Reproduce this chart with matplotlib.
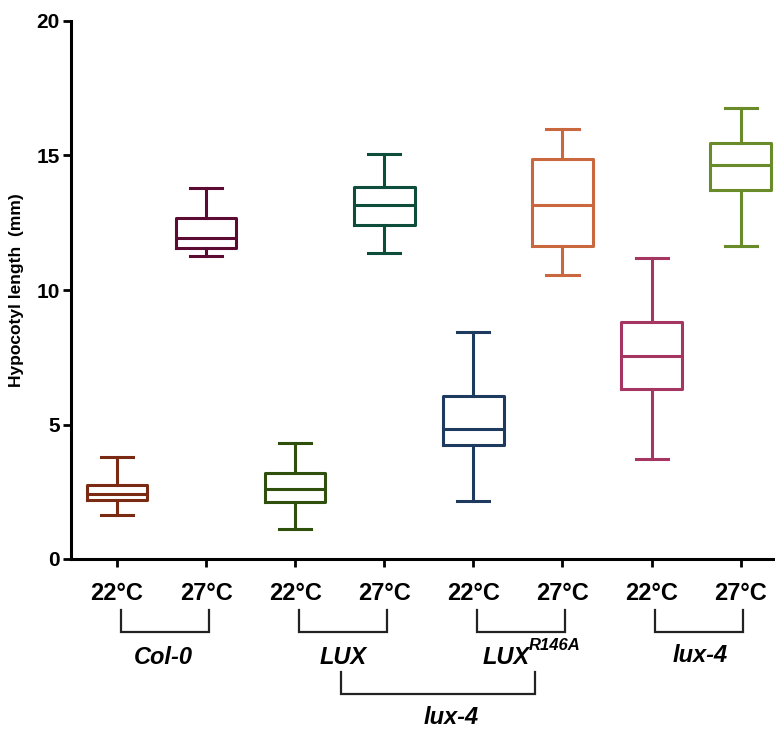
import matplotlib
matplotlib.use("Agg")
import matplotlib.pyplot as plt
import matplotlib.transforms as mtransforms

plt.rcParams['font.family'] = ['Liberation Sans', 'DejaVu Sans']

# ---- data ----
temps = ["22°C", "27°C", "22°C", "27°C", "22°C", "27°C", "22°C", "27°C"]
whislo = [1.65, 11.26, 1.12, 11.36, 2.16, 10.56, 3.71, 11.63]
q1 = [2.20, 11.55, 2.13, 12.42, 4.24, 11.65, 6.33, 13.72]
med = [2.42, 11.92, 2.60, 13.16, 4.82, 13.16, 7.56, 14.66]
q3 = [2.75, 12.69, 3.21, 13.84, 6.07, 14.86, 8.82, 15.48]
whishi = [3.80, 13.78, 4.30, 15.05, 8.45, 15.97, 11.20, 16.78]
colors = ['#7A2A12', '#5C0B32', '#2F4F0C', '#0E4D3B',
          '#1E3A5F', '#C9673F', '#A53561', '#6A8B2A']
yticks = [0, 5, 10, 15, 20]

W, H = 775, 742
fig = plt.figure(figsize=(W / 100, H / 100), dpi=100)
ax = fig.add_axes([71 / W, 1 - 559 / H, 1 - 71 / W, (559 - 21) / H])

positions = list(range(1, len(temps) + 1))
stats = [dict(whislo=a, q1=b, med=c, q3=d, whishi=e, fliers=[])
         for a, b, c, d, e in zip(whislo, q1, med, q3, whishi)]
lw = 2.2
for s, p, col in zip(stats, positions, colors):
    ax.bxp([s], positions=[p], widths=0.68, showfliers=False,
           boxprops=dict(color=col, linewidth=lw),
           medianprops=dict(color=col, linewidth=lw),
           whiskerprops=dict(color=col, linewidth=lw),
           capprops=dict(color=col, linewidth=lw),
           capwidths=0.36)

ax.set_xlim(0.484, 1 + (775 - 117) / 89.1)
ax.set_ylim(0, 20)
ax.set_yticks(yticks)
ax.set_yticklabels([str(t) for t in yticks], fontsize=15, fontweight='bold')
ax.set_xticks(positions)
ax.set_xticklabels([])
for sp in ['top', 'right']:
    ax.spines[sp].set_visible(False)
for sp in ['left', 'bottom']:
    ax.spines[sp].set_linewidth(2.2)
ax.tick_params(axis='both', width=2.0, length=6, direction='out', pad=2)
ax.set_ylabel("Hypocotyl length  (mm)", fontsize=12.5, fontweight='bold', labelpad=9)

# annotations below axis
tr = mtransforms.blended_transform_factory(ax.transData, fig.transFigure)
def fy(py):
    return 1 - py / H

for p, t in zip(positions, temps):
    ax.text(p, fy(593), t, transform=tr, ha='center', va='center',
            fontsize=17, fontweight='bold')

def bracket(x0, x1, ytop, ybot):
    ax.plot([x0, x0, x1, x1], [fy(ytop), fy(ybot), fy(ybot), fy(ytop)],
            transform=tr, color='#222222', lw=1.6, clip_on=False,
            solid_joinstyle='miter')

for i in range(0, 8, 2):
    bracket(positions[i] + 0.04, positions[i + 1] + 0.03, 610, 632)
bracket(3.51, 5.69, 672, 694)

ax.text(1.52, fy(657), "Col-0", transform=tr, ha='center', va='center',
        fontsize=17, fontweight='bold', style='italic')
ax.text(3.54, fy(657), "LUX", transform=tr, ha='center', va='center',
        fontsize=17, fontweight='bold', style='italic')
ax.text(5.37, fy(657), "LUX", transform=tr, ha='center', va='center',
        fontsize=17, fontweight='bold', style='italic')
ax.text(5.62, fy(646), "R146A", transform=tr, ha='left', va='center',
        fontsize=12, fontweight='bold', style='italic')
ax.text(7.54, fy(655), "lux-4", transform=tr, ha='center', va='center',
        fontsize=17, fontweight='bold', style='italic')
ax.text(4.75, fy(718), "lux-4", transform=tr, ha='center', va='center',
        fontsize=17, fontweight='bold', style='italic')

fig.savefig("out.png", dpi=100)
